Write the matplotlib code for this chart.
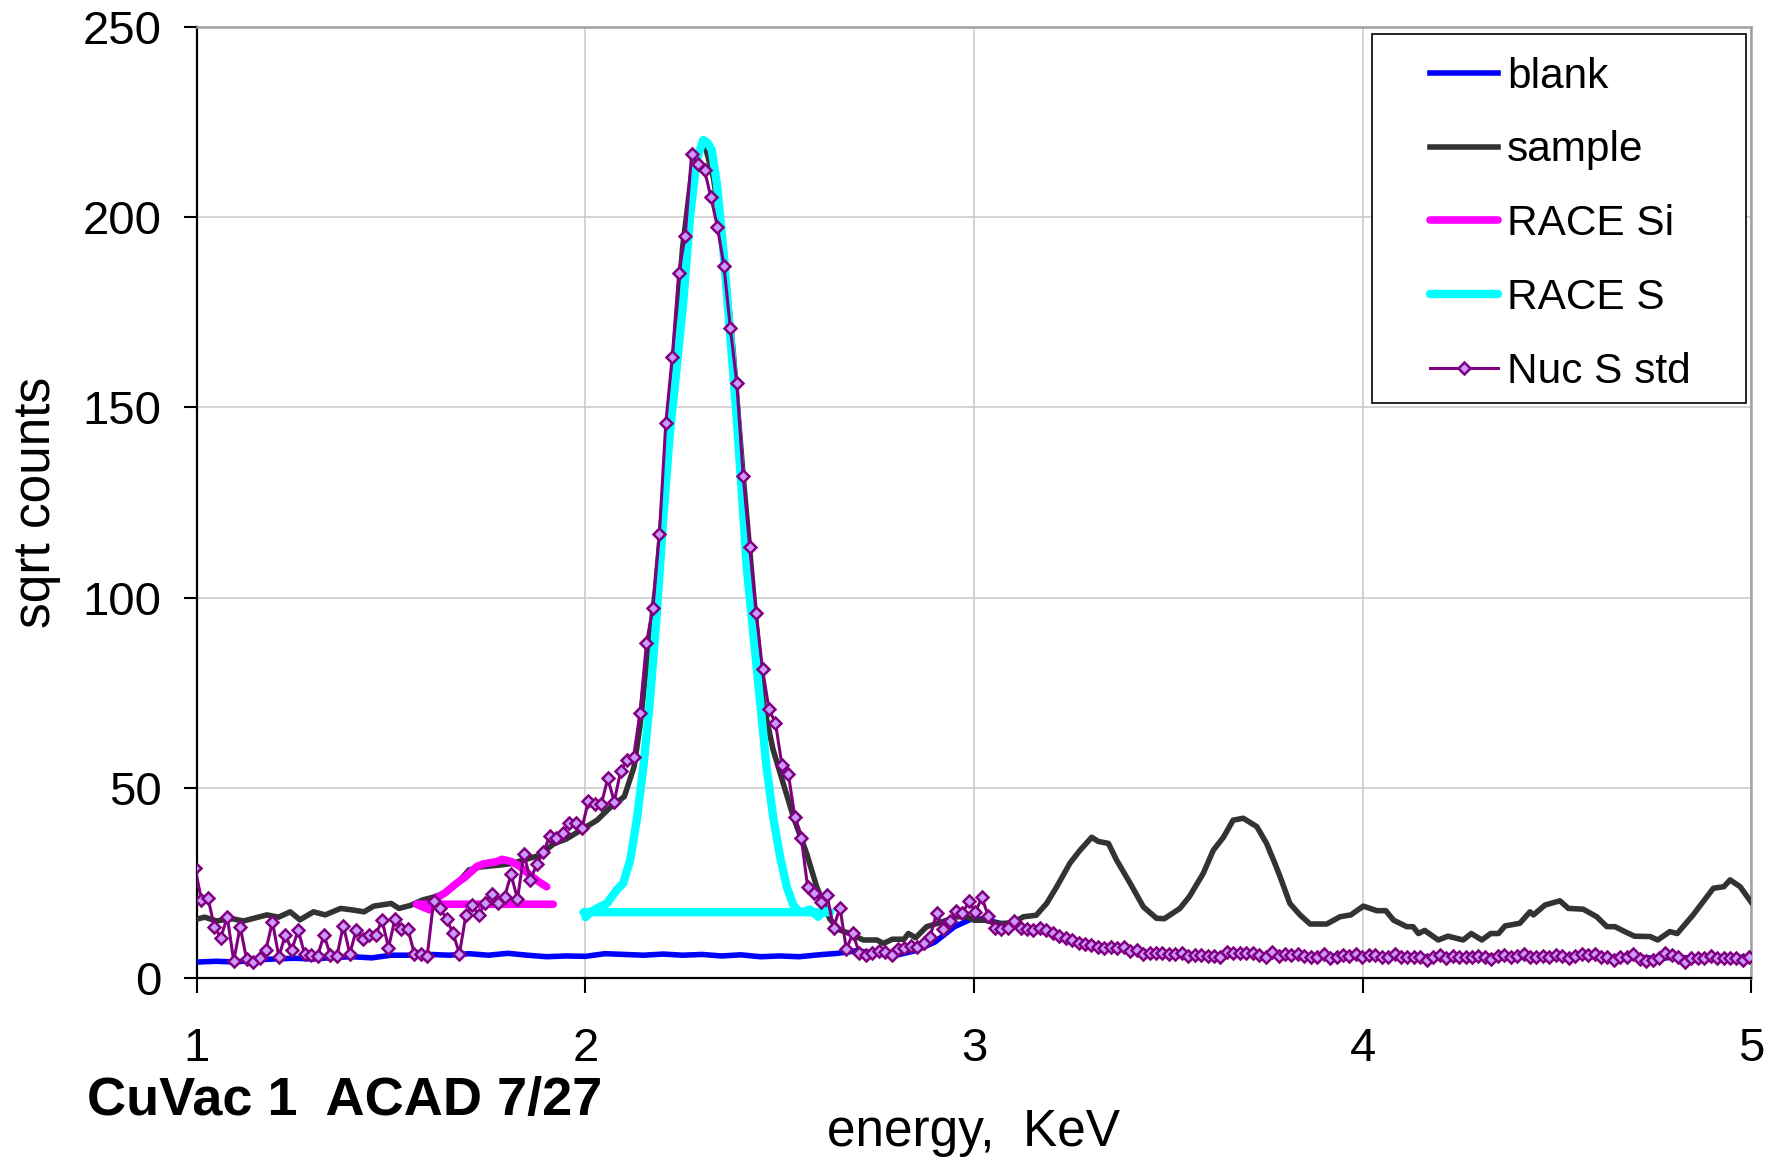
#!/usr/bin/env python3

# sqrt-count spectrum, CuVac 1 ACAD 7/27
import matplotlib
matplotlib.use('Agg')
import matplotlib.pyplot as plt
import numpy as np
from matplotlib.patches import Rectangle

plt.rcParams['font.family'] = ['Liberation Sans', 'DejaVu Sans']

# Nuc S std: one value per channel, channels start at 0.995 keV, 0.0166 keV wide
nuc_start = 0.995
nuc_step = 0.0166
nuc_vals = [
    29, 20.5, 21.1, 13.5, 10.6, 16.1, 4.5, 13.5, 4.9, 4.3,
    5.2, 7.4, 14.8, 5.6, 11.3, 7.4, 12.6, 6.2, 6.0, 5.8,
    11.3, 6.0, 5.8, 13.8, 6.4, 12.6, 10.2, 11.3, 11.3, 15.2,
    8.0, 15.5, 13.0, 13.0, 6.4, 6.4, 5.8, 20.2, 18.4, 15.5,
    11.8, 6.4, 16.5, 19.1, 16.5, 19.8, 22.2, 19.8, 21.3, 27.3,
    20.7, 32.6, 25.8, 29.9, 33.0, 37.3, 36.7, 38.0, 40.7, 40.7,
    39.4, 46.6, 45.8, 45.7, 52.5, 46.4, 54.4, 57.3, 58.0, 69.7,
    88.1, 97.2, 116.6, 146.0, 163.3, 185.4, 195.1, 216.6, 213.9, 212.4,
    205.2, 197.5, 187.3, 171.0, 156.5, 132.0, 113.4, 95.9, 81.2, 70.6,
    67.1, 56.0, 53.6, 42.4, 36.9, 23.8, 22.3, 20.1, 21.8, 13.2,
    18.5, 7.5, 11.8, 6.5, 6.0, 6.5, 7.2, 6.8, 6.0, 7.5,
    7.8, 8.4, 8.2, 9.3, 10.9, 17.2, 12.8, 15.1, 17.6, 17.0,
    20.2, 17.3, 21.2, 16.3, 13.2, 12.8, 13.2, 15.1, 13.2, 12.9,
    12.5, 13.2, 12.5, 11.9, 11.0, 10.6, 10.1, 9.3, 9.0, 8.6,
    8.2, 8.0, 8.2, 8.0, 8.2, 7.1, 7.3, 6.2, 6.5, 6.5,
    6.5, 6.3, 6.3, 6.7, 5.8, 6.0, 6.0, 5.8, 5.8, 5.6,
    6.9, 6.5, 6.7, 6.5, 6.5, 6.0, 5.6, 6.9, 5.7, 6.3,
    6.0, 6.3, 5.8, 5.6, 5.4, 6.3, 5.2, 5.6, 6.0, 5.8,
    6.3, 5.6, 6.0, 6.0, 5.6, 5.6, 6.3, 5.4, 5.4, 5.6,
    5.4, 4.7, 5.6, 6.0, 5.2, 5.8, 5.6, 5.6, 5.4, 5.8,
    5.6, 4.9, 5.8, 6.0, 5.6, 5.8, 6.3, 5.6, 5.6, 5.8,
    5.6, 6.0, 5.8, 5.2, 5.8, 6.3, 6.0, 6.3, 5.6, 5.4,
    4.7, 5.6, 5.6, 6.3, 4.9, 4.5, 4.7, 5.2, 6.5, 6.0,
    5.6, 4.3, 5.2, 5.2, 5.2, 5.8, 5.2, 5.2, 5.2, 5.2,
    4.7, 5.6,
]

blank_e = [
    1.00, 1.05, 1.10, 1.15, 1.20, 1.25, 1.30, 1.35, 1.40, 1.45,
    1.50, 1.55, 1.60, 1.65, 1.70, 1.75, 1.80, 1.85, 1.90, 1.95,
    2.00, 2.05, 2.10, 2.15, 2.20, 2.25, 2.30, 2.35, 2.40, 2.45,
    2.50, 2.55, 2.60, 2.65, 2.70, 2.75, 2.80, 2.85, 2.90, 2.95,
    3.00, 3.05, 3.10, 3.15, 3.20, 3.25, 3.30, 3.35, 3.40, 3.45,
    3.50, 3.55, 3.60, 3.65, 3.70, 3.75, 3.80, 3.85, 3.90, 3.95,
    4.00, 4.05, 4.10, 4.15, 4.20, 4.25, 4.30, 4.35, 4.40, 4.45,
    4.50, 4.55, 4.60, 4.65, 4.70, 4.75, 4.80, 4.85, 4.90, 4.95,
    5.00,
]
blank_vals = [
    4.2, 4.4, 4.2, 4.8, 5.0, 5.2, 5.0, 5.4, 5.6, 5.3,
    6.0, 6.0, 6.2, 6.0, 6.4, 6.0, 6.5, 6.0, 5.6, 5.8,
    5.7, 6.4, 6.2, 6.0, 6.3, 6.0, 6.2, 5.8, 6.1, 5.6,
    5.8, 5.6, 6.1, 6.5, 7.2, 6.3, 6.0, 7.2, 9.5, 13.5,
    15.8, 14.8, 13.5, 12.8, 11.8, 10.3, 8.8, 8.2, 7.5, 6.6,
    6.2, 6.0, 5.7, 6.0, 6.2, 5.8, 6.0, 5.8, 5.6, 5.8,
    5.6, 5.7, 5.5, 5.6, 5.6, 5.5, 5.6, 5.7, 5.6, 5.8,
    5.6, 5.8, 5.6, 5.4, 5.5, 5.2, 5.4, 5.3, 5.5, 5.3,
    5.6,
]

sample_e = [
    1.00, 1.02, 1.05, 1.09, 1.12, 1.15, 1.18, 1.21, 1.24, 1.265,
    1.30, 1.33, 1.37, 1.40, 1.43, 1.455, 1.50, 1.52, 1.55, 1.58,
    1.61, 1.64, 1.67, 1.70, 1.73, 1.78, 1.81, 1.84, 1.88, 1.92,
    1.95, 1.99, 2.03, 2.06, 2.10, 2.125, 2.14, 2.16, 2.18, 2.20,
    2.225, 2.25, 2.275, 2.305, 2.33, 2.355, 2.38, 2.405, 2.43, 2.458,
    2.483, 2.509, 2.535, 2.569, 2.595, 2.629, 2.655, 2.68, 2.715, 2.75,
    2.767, 2.79, 2.82, 2.831, 2.85, 2.878, 2.904, 2.93, 2.956, 2.981,
    3.00, 3.03, 3.06, 3.10, 3.127, 3.16, 3.187, 3.213, 3.247, 3.273,
    3.303, 3.32, 3.346, 3.367, 3.402, 3.436, 3.47, 3.49, 3.53, 3.555,
    3.59, 3.616, 3.642, 3.667, 3.693, 3.728, 3.753, 3.775, 3.788, 3.813,
    3.839, 3.865, 3.908, 3.942, 3.97, 4.002, 4.037, 4.06, 4.08, 4.114,
    4.13, 4.144, 4.16, 4.195, 4.22, 4.259, 4.28, 4.307, 4.33, 4.35,
    4.367, 4.405, 4.431, 4.44, 4.47, 4.508, 4.53, 4.568, 4.603, 4.629,
    4.65, 4.675, 4.70, 4.74, 4.76, 4.791, 4.81, 4.851, 4.877, 4.903,
    4.93, 4.946, 4.972, 5.00,
]
sample_vals = [
    15.5, 16.0, 15.0, 15.6, 15.0, 15.8, 16.6, 16.0, 17.4, 15.3,
    17.4, 16.6, 18.3, 17.9, 17.4, 18.9, 19.6, 18.3, 19.1, 20.5,
    21.3, 22.5, 24.9, 28.4, 29.2, 29.7, 30.1, 31.0, 32.2, 35.4,
    36.5, 39.0, 41.5, 44.5, 47.7, 55.5, 66.0, 85.0, 102, 125,
    160, 192, 213, 220, 210, 192, 165, 133, 104, 72,
    60, 51.2, 42.4, 32.8, 24.0, 15.5, 12.6, 11.7, 10.0, 10.0,
    9.1, 10.2, 10.2, 11.7, 10.6, 13.5, 14.3, 15.2, 16.1, 16.1,
    15.2, 15.2, 14.3, 14.5, 16.1, 16.5, 19.6, 24.0, 30.2, 33.6,
    37.0, 35.9, 35.4, 31.0, 24.9, 18.7, 15.7, 15.6, 18.3, 21.5,
    27.5, 33.6, 37.0, 41.5, 42.0, 39.8, 35.4, 30.0, 26.6, 19.6,
    16.6, 14.2, 14.2, 16.1, 16.6, 18.9, 17.7, 17.7, 15.2, 13.5,
    13.5, 11.7, 12.5, 10.0, 11.0, 10.0, 11.7, 10.0, 11.7, 11.7,
    13.7, 14.4, 17.4, 16.6, 19.2, 20.3, 18.3, 18.1, 16.1, 13.5,
    13.5, 12.2, 11.0, 10.9, 10.0, 12.2, 11.7, 16.6, 20.1, 23.6,
    24.0, 25.8, 24.0, 20.0,
]

# RACE Si: background line, then the fitted peak
si_e = [1.917, 1.565, 1.585, 1.60, 1.617, 1.64, 1.668, 1.69, 1.72, 1.737,
        1.771, 1.785, 1.81, 1.831, 1.857, 1.88, 1.90]
si_vals = [19.4, 19.4, 18.5, 17.9, 21.0, 22.5, 24.9, 26.5, 29.3, 30.0,
           30.6, 31.2, 30.6, 29.3, 27.1, 25.3, 24.0]

# RACE S: fitted peak, then back along the background line
s_e = [2.00, 2.015, 2.029, 2.055, 2.08, 2.097, 2.115, 2.132, 2.149, 2.166,
       2.183, 2.200, 2.217, 2.235, 2.252, 2.269, 2.286, 2.303, 2.315, 2.325,
       2.338, 2.355, 2.372, 2.389, 2.406, 2.415, 2.432, 2.449, 2.466, 2.483,
       2.501, 2.518, 2.535, 2.548, 2.561, 2.578, 2.599, 2.615, 2.63, 1.995]
s_vals = [16.0, 17.5, 18.3, 19.6, 23.1, 24.9, 31.0, 41.5, 55.5, 73.1,
          95.0, 120.5, 143.0, 160.7, 178.0, 200.0, 215.0, 220.3, 219.5, 217.7,
          209.0, 191.4, 169.5, 147.6, 122.0, 108.0, 90.6, 73.1, 55.5, 42.4,
          31.9, 24.0, 19.2, 17.6, 17.4, 18.0, 16.1, 17.7, 17.3, 17.3]

x_ticks = [1, 2, 3, 4, 5]
y_ticks = [0, 50, 100, 150, 200, 250]


def main():
    fig = plt.figure(figsize=(17.68, 11.61), dpi=100)
    ax = fig.add_axes([0.1114, 0.1576, 0.879, 0.8191])

    nuc_e = nuc_start + nuc_step * np.arange(len(nuc_vals))

    ax.plot(blank_e, blank_vals, color='#0000FF', lw=4, label='blank', zorder=3)
    ax.plot(sample_e, sample_vals, color='#333333', lw=4, label='sample', zorder=4)
    ax.plot(si_e, si_vals, color='#FF00FF', lw=5.5, label='RACE Si', zorder=5,
            solid_capstyle='round', solid_joinstyle='round')
    ax.plot(s_e, s_vals, color='#00FFFF', lw=6, label='RACE S', zorder=6,
            solid_capstyle='round', solid_joinstyle='round')
    ax.plot(nuc_e, nuc_vals, color='#800080', lw=2.2, marker='D', ms=6.5,
            mfc='#CC99FF', mec='#800080', mew=1.8, label='Nuc S std', zorder=7)

    ax.set_xlim(1, 5)
    ax.set_ylim(0, 250)
    ax.set_xticks(x_ticks)
    ax.set_yticks(y_ticks)
    ax.grid(True, color='#CCCCCC', lw=1.2)
    ax.set_axisbelow(True)

    ax.tick_params(axis='both', direction='out', width=1.5, labelsize=34)
    ax.tick_params(axis='x', length=11, pad=24)
    ax.tick_params(axis='y', length=9.5, pad=16)
    for side in ['left', 'bottom']:
        ax.spines[side].set_color('black')
        ax.spines[side].set_linewidth(1.6)
    for side in ['top', 'right']:
        ax.spines[side].set_color('#A0A0A0')
        ax.spines[side].set_linewidth(1.8)

    # legend box drawn by hand, legend text inside it
    ax.add_patch(Rectangle((0.756, 0.6046), 0.2408, 0.388, transform=ax.transAxes,
                           fill=True, facecolor='white', edgecolor='black',
                           lw=1.2, zorder=10))
    leg = ax.legend(loc='upper left', bbox_to_anchor=(0.7934, 0.969),
                    frameon=False, fontsize=30.5, borderpad=0, borderaxespad=0,
                    handlelength=1.6, handletextpad=0.22, labelspacing=0.8,
                    numpoints=1)
    leg.set_zorder(11)

    fig.text(0.5509, 0.0129, 'energy,  KeV', fontsize=37, ha='center', va='baseline')
    fig.text(0.0206, 0.567, 'sqrt counts', fontsize=37, rotation=90,
             ha='center', va='center')
    fig.text(0.0492, 0.0396, 'CuVac 1  ACAD 7/27', fontsize=39,
             fontweight='bold', ha='left', va='baseline')

    fig.savefig('out.png', dpi=100)


if __name__ == '__main__':
    main()
